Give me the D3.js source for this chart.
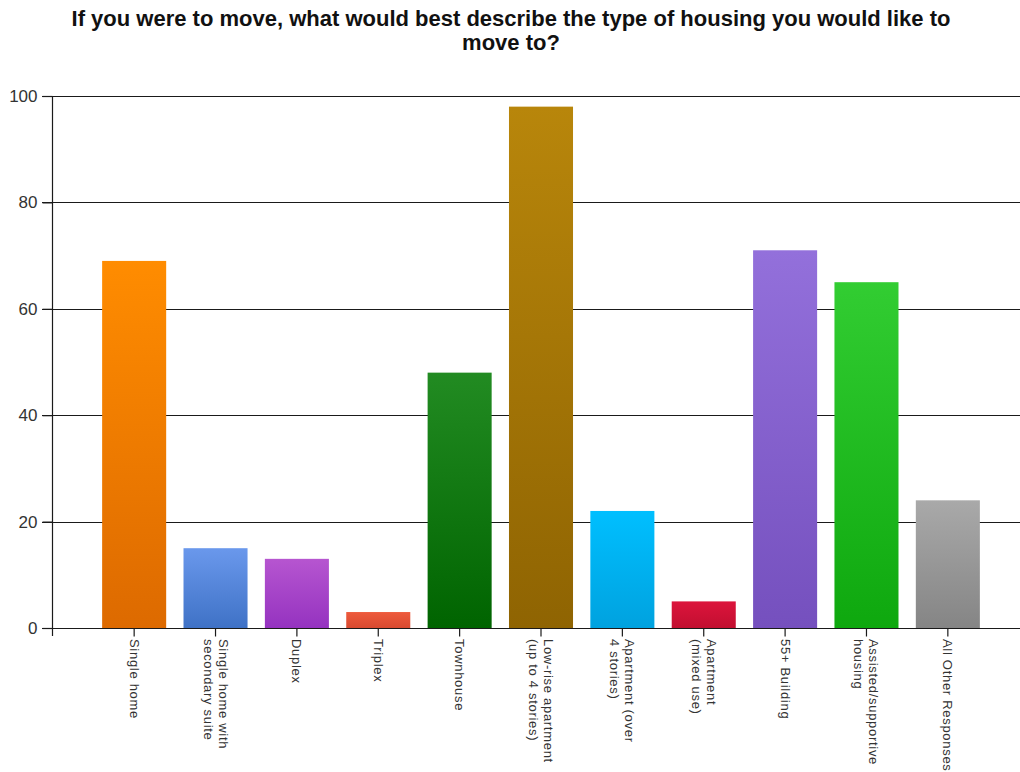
<!DOCTYPE html>
<html>
<head>
<meta charset="utf-8">
<script src="https://cdn.jsdelivr.net/npm/d3@7"></script>
<style>
  html, body { margin: 0; padding: 0; background: #fff; }
  svg { display: block; }
</style>
</head>
<body>
<svg id="chart" width="1020" height="772"></svg>
<script>
// Survey responses: preferred type of housing when moving
const categories = [
  ["Single home"],
  ["Single home with", "secondary suite"],
  ["Duplex"],
  ["Triplex"],
  ["Townhouse"],
  ["Low-rise apartment", "(up to 4 stories)"],
  ["Apartment (over", "4 stories)"],
  ["Apartment", "(mixed use)"],
  ["55+ Building"],
  ["Assisted/supportive", "housing"],
  ["All Other Responses"]
];
const values = [69, 15, 13, 3, 48, 98, 22, 5, 71, 65, 24];
const topColors    = ["#ff8c00", "#6a98ec", "#b655d0", "#ee5a3c", "#228b22", "#b8860b", "#00bfff", "#dc143c", "#9370db", "#32cd32", "#a9a9a9"];
const bottomColors = ["#dd6a00", "#3f72c6", "#9533c0", "#d84a30", "#006400", "#8f6402", "#00a2df", "#c20f30", "#7550be", "#0ea80e", "#858585"];
const yTicks = [0, 20, 40, 60, 80, 100];
const titleLines = [
  "If you were to move, what would best describe the type of housing you would like to",
  "move to?"
];

const svg = d3.select("#chart");
const W = 1020;
const axisX = 52, plotTop = 96, plotBottom = 628;

const x = d3.scaleBand()
  .domain(d3.range(categories.length))
  .range([94, 988])
  .paddingInner(0.213)
  .paddingOuter(0.1);

const y = d3.scaleLinear().domain([0, 100]).range([plotBottom, plotTop]);

// Title
svg.append("g").selectAll("text")
  .data(titleLines)
  .join("text")
  .attr("x", 511)
  .attr("y", (d, i) => 26 + i * 24)
  .attr("text-anchor", "middle")
  .attr("font-family", "Liberation Sans, Arial, sans-serif")
  .attr("font-weight", "bold")
  .attr("font-size", 22)
  .attr("fill", "#111")
  .text(d => d);

// Gradients for bars
const defs = svg.append("defs");
values.forEach((v, i) => {
  const g = defs.append("linearGradient")
    .attr("id", "grad" + i)
    .attr("x1", 0).attr("y1", 0).attr("x2", 0).attr("y2", 1);
  g.append("stop").attr("offset", "0%").attr("stop-color", topColors[i]);
  g.append("stop").attr("offset", "100%").attr("stop-color", bottomColors[i]);
});

// Horizontal gridlines
svg.append("g").selectAll("line")
  .data(yTicks.filter(d => d > 0))
  .join("line")
  .attr("x1", axisX - 10)
  .attr("x2", W)
  .attr("y1", d => Math.round(y(d)) + 0.5)
  .attr("y2", d => Math.round(y(d)) + 0.5)
  .attr("stroke", "#1a1a1a")
  .attr("stroke-width", 1.2);

// Bars
svg.append("g").selectAll("rect")
  .data(values)
  .join("rect")
  .attr("x", (d, i) => x(i))
  .attr("width", x.bandwidth())
  .attr("y", d => y(d))
  .attr("height", d => plotBottom - y(d))
  .attr("fill", (d, i) => `url(#grad${i})`);

// Y axis
const yAxis = d3.axisLeft(y)
  .tickValues(yTicks)
  .tickSize(10)
  .tickPadding(5)
  .tickFormat(d3.format("d"));

const gy = svg.append("g")
  .attr("transform", `translate(${axisX + 0.5},0)`)
  .call(yAxis);
gy.select(".domain").remove();
gy.selectAll(".tick line").attr("stroke", "#1a1a1a").attr("stroke-width", 1.2);
gy.selectAll(".tick text")
  .attr("font-family", "Liberation Sans, Arial, sans-serif")
  .attr("font-size", 17)
  .attr("fill", "#333");

gy.append("line")
  .attr("x1", 0).attr("x2", 0)
  .attr("y1", plotTop).attr("y2", plotBottom + 8)
  .attr("stroke", "#1a1a1a")
  .attr("stroke-width", 1.2);

// X axis
const xAxis = d3.axisBottom(x).tickSize(8).tickFormat("");
const gx = svg.append("g")
  .attr("transform", `translate(0,${plotBottom + 0.5})`)
  .call(xAxis);
gx.select(".domain").remove();
gx.selectAll(".tick line").attr("stroke", "#1a1a1a").attr("stroke-width", 1.2);
gx.append("line")
  .attr("x1", axisX - 10).attr("x2", W)
  .attr("y1", 0).attr("y2", 0)
  .attr("stroke", "#1a1a1a")
  .attr("stroke-width", 1.2);

// Rotated category labels
const lineH = 15;
const labels = svg.append("g").selectAll("text")
  .data(categories)
  .join("text")
  .attr("font-family", "Liberation Sans, Arial, sans-serif")
  .attr("font-size", 13)
  .attr("letter-spacing", 0.7)
  .attr("fill", "#333")
  .attr("transform", (d, i) => {
    const cx = x(i) + x.bandwidth() / 2;
    const off = (d.length - 1) * lineH / 2;
    return `translate(${cx - 4.5 + off},${plotBottom + 11}) rotate(90)`;
  });
labels.selectAll("tspan")
  .data(d => d)
  .join("tspan")
  .attr("x", 0)
  .attr("dy", (d, i) => i === 0 ? 0 : lineH)
  .text(d => d);
</script>
</body>
</html>
